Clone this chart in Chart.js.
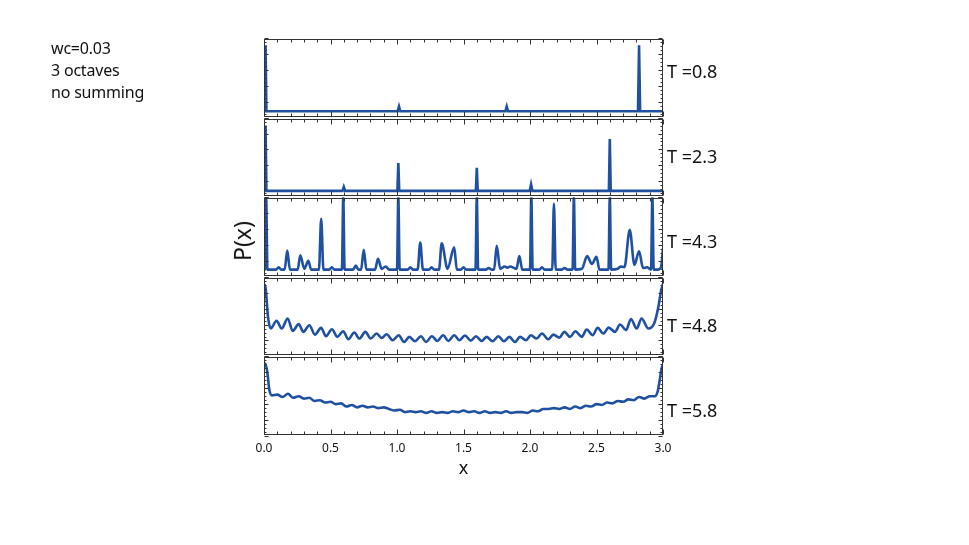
<!DOCTYPE html>
<html>
<head>
<meta charset="utf-8">
<script src="https://cdn.jsdelivr.net/npm/chart.js@4.4.1/dist/chart.umd.min.js"></script>
<style>
  html, body { margin: 0; padding: 0; background: #fff; }
  #wrap { position: relative; width: 969px; height: 545px; font-family: "Noto Sans", sans-serif; color: #111; }
  #chart { position: absolute; left: 0; top: 0; }
  .note { position: absolute; left: 51px; top: 37px; font-size: 16px; line-height: 22px; white-space: pre; letter-spacing: -0.2px; }
  .tlab { position: absolute; left: 667px; font-size: 18px; line-height: 20px; white-space: pre; }
  .ylab { position: absolute; left: 242px; top: 241px; font-size: 23px; line-height: 24px;
          transform: translate(-50%, -50%) rotate(-90deg); white-space: pre; }
</style>
</head>
<body>
<div id="wrap">
  <canvas id="chart" width="969" height="545"></canvas>
  <div class="note">wc=0.03
3 octaves
no summing</div>
  <div class="ylab">P(x)</div>
</div>
<script>
// x axis
const xTicks = [0, 0.5, 1, 1.5, 2, 2.5, 3];
const xTitle = 'x';
const panelLabels = ['T =0.8', 'T =2.3', 'T =4.3', 'T =4.8', 'T =5.8'];

// each panel: [x, P(x)] (P scaled 0..1 inside its frame)
const panel1 = [[0, 0.08], [0.006, 0.08], [0.012, 0.91], [0.018, 0.08],
  [1.005, 0.08], [1.015, 0.14], [1.025, 0.08],
  [1.815, 0.08], [1.825, 0.14], [1.835, 0.08],
  [2.812, 0.08], [2.82, 0.91], [2.828, 0.08], [3.0, 0.08]];

const panel2 = [[0, 0.08], [0.006, 0.08], [0.012, 0.90], [0.018, 0.08],
  [0.59, 0.08], [0.6, 0.13], [0.61, 0.08],
  [1.003, 0.08], [1.01, 0.43], [1.017, 0.08],
  [1.593, 0.08], [1.6, 0.37], [1.607, 0.08],
  [1.998, 0.08], [2.008, 0.16], [2.018, 0.08],
  [2.593, 0.08], [2.6, 0.73], [2.607, 0.08], [3.0, 0.08]];

const panel3 = [[0, 0.09], [0.008, 0.09], [0.016, 1.0], [0.026, 0.09],
  [0.09, 0.09], [0.11, 0.12], [0.13, 0.09],
  [0.155, 0.09], [0.175, 0.33], [0.195, 0.09],
  [0.253, 0.09], [0.273, 0.27], [0.303, 0.10], [0.333, 0.20], [0.355, 0.09],
  [0.413, 0.09], [0.43, 0.73], [0.447, 0.09],
  [0.49, 0.09], [0.51, 0.12], [0.53, 0.09],
  [0.586, 0.09], [0.596, 1.0], [0.606, 0.09],
  [0.67, 0.09], [0.69, 0.14], [0.71, 0.09],
  [0.73, 0.09], [0.75, 0.34], [0.77, 0.09],
  [0.835, 0.09], [0.857, 0.225], [0.885, 0.10], [0.915, 0.13], [0.94, 0.09],
  [1.0, 0.09], [1.01, 1.0], [1.02, 0.09],
  [1.08, 0.09], [1.10, 0.12], [1.12, 0.09],
  [1.155, 0.09], [1.175, 0.43], [1.195, 0.09],
  [1.24, 0.09], [1.26, 0.12], [1.28, 0.09],
  [1.316, 0.09], [1.336, 0.42], [1.38, 0.10], [1.43, 0.37], [1.45, 0.09],
  [1.48, 0.09], [1.50, 0.12], [1.52, 0.09],
  [1.59, 0.09], [1.60, 1.0], [1.61, 0.09],
  [1.67, 0.09], [1.69, 0.11], [1.71, 0.09],
  [1.73, 0.09], [1.75, 0.39], [1.775, 0.10], [1.81, 0.13], [1.83, 0.115], [1.85, 0.13],
  [1.898, 0.10], [1.92, 0.26], [1.942, 0.09],
  [2.0, 0.09], [2.01, 1.0], [2.02, 0.09],
  [2.07, 0.09], [2.09, 0.12], [2.11, 0.09],
  [2.167, 0.09], [2.18, 0.92], [2.193, 0.09],
  [2.24, 0.09], [2.26, 0.11], [2.28, 0.09],
  [2.32, 0.09], [2.33, 1.0], [2.34, 0.09],
  [2.39, 0.10], [2.43, 0.26], [2.465, 0.16], [2.50, 0.25], [2.522, 0.09],
  [2.59, 0.09], [2.60, 1.0], [2.61, 0.09],
  [2.66, 0.10], [2.68, 0.13], [2.71, 0.12], [2.75, 0.59], [2.785, 0.15], [2.82, 0.32],
  [2.85, 0.11], [2.88, 0.12], [2.90, 0.10],
  [2.91, 0.09], [2.92, 1.0], [2.93, 0.09],
  [2.96, 0.09], [2.985, 0.12], [3.0, 0.35]];

const panel4 = [[0, 0.91], [0.012, 0.86], [0.03, 0.50], [0.05, 0.35],
  [0.095, 0.447], [0.133, 0.35], [0.178, 0.477], [0.216, 0.321], [0.261, 0.405], [0.296, 0.308],
  [0.341, 0.392], [0.383, 0.274], [0.429, 0.358], [0.466, 0.253], [0.511, 0.342], [0.551, 0.245],
  [0.596, 0.316], [0.634, 0.215], [0.679, 0.30], [0.717, 0.224], [0.762, 0.308], [0.802, 0.224],
  [0.847, 0.287], [0.885, 0.232], [0.922, 0.278], [0.967, 0.203], [1.013, 0.266], [1.053, 0.181],
  [1.093, 0.245], [1.135, 0.19], [1.180, 0.253], [1.218, 0.181], [1.263, 0.253], [1.303, 0.194],
  [1.348, 0.266], [1.386, 0.194], [1.431, 0.266], [1.469, 0.203], [1.511, 0.262], [1.554, 0.198],
  [1.594, 0.253], [1.637, 0.194], [1.674, 0.245], [1.719, 0.19], [1.762, 0.253], [1.804, 0.19],
  [1.845, 0.245], [1.887, 0.181], [1.925, 0.245], [1.970, 0.203], [2.007, 0.266], [2.050, 0.224],
  [2.090, 0.287], [2.138, 0.215], [2.175, 0.274], [2.221, 0.236], [2.258, 0.308], [2.301, 0.245],
  [2.341, 0.316], [2.389, 0.245], [2.426, 0.338], [2.471, 0.266], [2.509, 0.358], [2.551, 0.287],
  [2.592, 0.362], [2.639, 0.308], [2.677, 0.40], [2.722, 0.33], [2.759, 0.47], [2.802, 0.35],
  [2.839, 0.477], [2.89, 0.35], [2.935, 0.42], [2.965, 0.62], [2.985, 0.82], [3.0, 0.91]];

const panel5 = [[0, 0.90], [0.01, 0.91], [0.025, 0.80], [0.04, 0.58], [0.06, 0.51],
  [0.1, 0.52], [0.14, 0.49], [0.18, 0.53], [0.22, 0.48], [0.26, 0.50], [0.3, 0.47],
  [0.34, 0.48], [0.38, 0.44], [0.42, 0.45], [0.46, 0.42], [0.5, 0.43], [0.54, 0.40],
  [0.58, 0.41], [0.62, 0.37], [0.66, 0.39], [0.7, 0.36], [0.74, 0.38], [0.78, 0.36],
  [0.82, 0.37], [0.86, 0.35], [0.9, 0.36], [0.94, 0.34], [0.98, 0.32], [1.02, 0.33],
  [1.06, 0.30], [1.1, 0.31], [1.14, 0.30], [1.18, 0.31], [1.22, 0.29], [1.26, 0.31],
  [1.3, 0.29], [1.34, 0.30], [1.38, 0.29], [1.42, 0.31], [1.46, 0.30], [1.5, 0.32],
  [1.54, 0.30], [1.58, 0.31], [1.62, 0.29], [1.66, 0.31], [1.7, 0.29], [1.74, 0.30],
  [1.78, 0.29], [1.82, 0.31], [1.86, 0.29], [1.9, 0.30], [1.94, 0.30], [1.98, 0.29],
  [2.02, 0.32], [2.06, 0.31], [2.1, 0.34], [2.14, 0.34], [2.18, 0.35], [2.22, 0.34],
  [2.26, 0.36], [2.3, 0.34], [2.34, 0.37], [2.38, 0.35], [2.42, 0.38], [2.46, 0.37],
  [2.5, 0.40], [2.54, 0.39], [2.58, 0.42], [2.62, 0.41], [2.66, 0.44], [2.7, 0.43],
  [2.74, 0.46], [2.78, 0.45], [2.82, 0.49], [2.86, 0.47], [2.9, 0.50], [2.94, 0.50],
  [2.96, 0.56], [2.975, 0.70], [2.99, 0.85], [3.0, 0.90]];

const panels = [panel1, panel2, panel3, panel4, panel5];
const smooth = [false, false, true, true, true];
const lineColor = '#1f51a0';
const frameColor = '#333';

// T labels to the right of the panels
panelLabels.forEach((txt, i) => {
  const d = document.createElement('div');
  d.className = 'tlab';
  d.style.top = (61 + i * 84.8) + 'px';
  d.textContent = txt;
  document.getElementById('wrap').appendChild(d);
});

// frames with inward ticks around every panel
const framePlugin = {
  id: 'frames',
  afterDatasetsDraw(chart) {
    const ctx = chart.ctx;
    const xs = chart.scales.x;
    const l = Math.round(xs.left) + 0.5, r = Math.round(xs.right) - 0.5;
    ctx.save();
    ctx.strokeStyle = frameColor;
    ctx.lineWidth = 1;
    const seg = (x0, y0, x1, y1) => { ctx.beginPath(); ctx.moveTo(x0, y0); ctx.lineTo(x1, y1); ctx.stroke(); };
    panels.forEach((p, i) => {
      const ys = chart.scales['p' + i];
      const t = Math.round(ys.top) + 1.5, b = Math.round(ys.bottom) - 1.5;
      ctx.strokeRect(l, t, r - l, b - t);
      for (let k = 0; k <= 30; k++) {
        const px = Math.round(xs.getPixelForValue(k / 10)) + 0.5;
        const len = k % 5 === 0 ? 5 : 3;
        seg(px, t, px, t + len);
        seg(px, b, px, b - len);
      }
      for (let k = 0; k <= 20; k++) {
        const py = Math.round(ys.getPixelForValue(k / 20)) + 0.5;
        const len = k % 4 === 0 ? 4 : 2;
        seg(l, py, l + len, py);
        seg(r, py, r - len, py);
      }
    });
    ctx.restore();
  }
};

Chart.defaults.font.family = '"Noto Sans", sans-serif';
Chart.defaults.color = '#111';

// stacked y axes: the last one defined ends up on top
const scales = {
  x: {
    type: 'linear', min: 0, max: 3, position: 'bottom',
    afterBuildTicks: s => { s.ticks = xTicks.map(v => ({ value: v })); },
    afterFit: s => { s.height = 48; },
    ticks: { font: { size: 12 }, padding: 5, callback: v => Number(v).toFixed(1) },
    grid: { display: false, drawTicks: false },
    border: { display: false },
    title: { display: true, text: xTitle, font: { size: 18 } }
  }
};
for (let i = panels.length - 1; i >= 0; i--) {
  scales['p' + i] = {
    type: 'linear', min: 0, max: 1, position: 'left',
    stack: 'panels', stackWeight: 1,
    ticks: { display: false },
    grid: { display: false, drawTicks: false },
    border: { display: false },
    afterFit: s => { s.width = 0; }
  };
}

new Chart(document.getElementById('chart'), {
  type: 'line',
  data: {
    datasets: panels.map((p, i) => ({
      label: panelLabels[i],
      data: p.map(([x, y]) => ({ x, y })),
      yAxisID: 'p' + i,
      borderColor: lineColor,
      borderWidth: 2.6,
      pointRadius: 0,
      tension: 0,
      cubicInterpolationMode: smooth[i] ? 'monotone' : 'default'
    }))
  },
  options: {
    responsive: false,
    animation: false,
    layout: { padding: { left: 264, right: 306, top: 38, bottom: 61 } },
    plugins: { legend: { display: false }, tooltip: { enabled: false } },
    scales: scales
  },
  plugins: [framePlugin]
});
</script>
</body>
</html>
